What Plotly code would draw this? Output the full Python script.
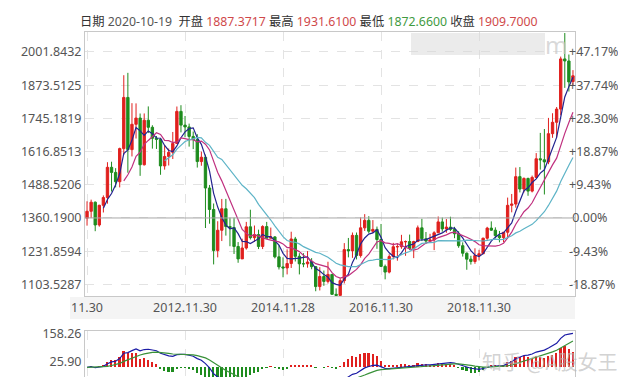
import numpy as np
import plotly.graph_objects as go

# ---------------- data (monthly, 2010.11 .. 2020.10) ----------------
opens = [1359.4, 1386.1, 1421.1, 1333.1, 1409.3, 1439.0, 1556.0, 1536.3, 1500.4, 1628.3,
         1826.1, 1624.4, 1722.2, 1746.4, 1565.8, 1738.0, 1710.7, 1668.3, 1664.0, 1561.4,
         1598.0, 1614.0, 1648.3, 1772.1, 1719.1, 1712.0, 1675.4, 1663.2, 1578.2, 1595.0,
         1476.0, 1393.0, 1234.6, 1312.7, 1395.8, 1327.0, 1323.0, 1250.0, 1202.0, 1244.0,
         1326.0, 1284.0, 1296.0, 1250.0, 1327.0, 1282.0, 1287.0, 1210.0, 1171.0, 1167.0,
         1184.0, 1279.0, 1212.0, 1183.0, 1183.0, 1190.0, 1172.0, 1095.0, 1134.0, 1115.0,
         1142.0, 1065.0, 1061.0, 1118.0, 1238.0, 1233.0, 1293.0, 1215.0, 1322.0, 1351.0,
         1309.0, 1316.0, 1277.0, 1173.0, 1151.0, 1211.0, 1248.6, 1249.0, 1268.0, 1269.0,
         1242.0, 1269.0, 1322.0, 1280.0, 1271.0, 1275.0, 1303.0, 1345.0, 1318.0, 1325.0,
         1316.0, 1299.0, 1253.0, 1224.0, 1201.0, 1192.0, 1215.0, 1222.0, 1282.0, 1321.0,
         1313.0, 1292.0, 1284.0, 1305.0, 1409.0, 1414.0, 1520.0, 1472.0, 1513.0, 1464.0,
         1517.0, 1589.0, 1585.0, 1577.0, 1686.0, 1730.0, 1781.0, 1975.0, 1967.0, 1887.3717]
highs = [1424.6, 1431.0, 1424.0, 1411.2, 1447.4, 1575.8, 1577.6, 1552.7, 1632.0, 1912.0,
         1921.2, 1803.9, 1803.1, 1764.0, 1764.2, 1791.4, 1718.6, 1677.1, 1668.3, 1640.5,
         1628.5, 1692.6, 1791.0, 1796.1, 1754.3, 1724.9, 1694.5, 1684.0, 1616.5, 1605.0,
         1487.8, 1416.2, 1347.6, 1433.8, 1434.0, 1361.0, 1361.0, 1267.0, 1280.0, 1345.0,
         1392.0, 1331.0, 1315.0, 1332.0, 1345.0, 1323.0, 1290.0, 1255.0, 1208.0, 1239.0,
         1307.0, 1287.0, 1224.0, 1224.0, 1232.0, 1205.0, 1174.0, 1170.0, 1157.0, 1191.0,
         1142.0, 1088.0, 1127.0, 1263.0, 1283.0, 1304.0, 1304.0, 1362.0, 1375.0, 1367.0,
         1352.0, 1327.0, 1337.0, 1180.0, 1220.0, 1264.0, 1261.0, 1295.0, 1273.0, 1296.0,
         1272.0, 1331.0, 1357.0, 1306.0, 1299.0, 1309.0, 1366.0, 1362.0, 1356.0, 1365.0,
         1326.0, 1309.0, 1266.0, 1227.0, 1214.0, 1243.0, 1237.0, 1284.0, 1326.0, 1347.0,
         1324.0, 1310.0, 1306.0, 1439.0, 1453.0, 1555.0, 1557.0, 1517.0, 1516.0, 1524.0,
         1611.0, 1689.0, 1704.0, 1747.0, 1765.0, 1789.0, 1984.0, 2075.0, 1992.0, 1931.61]
lows = [1330.6, 1360.6, 1309.1, 1326.6, 1381.4, 1415.5, 1462.4, 1478.3, 1478.4, 1603.5,
        1535.0, 1598.0, 1667.2, 1523.0, 1563.0, 1688.3, 1628.2, 1627.0, 1527.1, 1547.0,
        1563.1, 1588.0, 1646.6, 1691.0, 1672.0, 1636.0, 1626.3, 1555.0, 1562.0, 1321.4,
        1338.0, 1180.7, 1208.0, 1271.0, 1292.0, 1251.0, 1221.0, 1187.0, 1202.0, 1238.0,
        1277.0, 1268.0, 1240.0, 1240.0, 1281.0, 1281.0, 1204.0, 1161.0, 1131.0, 1142.0,
        1167.0, 1192.0, 1142.0, 1170.0, 1168.0, 1162.0, 1077.0, 1080.0, 1098.0, 1107.0,
        1066.0, 1062.0, 1061.0, 1107.0, 1208.0, 1206.0, 1200.0, 1207.0, 1310.0, 1301.0,
        1302.0, 1241.0, 1171.0, 1123.0, 1146.0, 1200.0, 1195.0, 1241.0, 1214.0, 1236.0,
        1205.0, 1267.0, 1271.0, 1260.0, 1264.0, 1236.0, 1303.0, 1307.0, 1303.0, 1310.0,
        1282.0, 1245.0, 1211.0, 1160.0, 1180.0, 1183.0, 1196.0, 1221.0, 1276.0, 1310.0,
        1281.0, 1266.0, 1267.0, 1281.0, 1382.0, 1400.0, 1459.0, 1459.0, 1446.0, 1459.0,
        1517.0, 1547.0, 1451.0, 1568.0, 1670.0, 1671.0, 1757.0, 1863.0, 1849.0, 1872.66]
closes = [1386.1, 1421.1, 1333.1, 1409.3, 1439.0, 1556.0, 1536.3, 1500.4, 1628.3, 1826.1,
          1624.4, 1722.2, 1746.4, 1565.8, 1738.0, 1710.7, 1668.3, 1664.0, 1561.4, 1598.0,
          1614.0, 1648.3, 1772.1, 1719.1, 1712.0, 1675.4, 1663.2, 1578.2, 1595.0, 1476.0,
          1393.0, 1234.6, 1312.7, 1395.8, 1327.0, 1323.0, 1250.0, 1202.0, 1244.0, 1326.0,
          1284.0, 1296.0, 1250.0, 1327.0, 1282.0, 1287.0, 1210.0, 1171.0, 1167.0, 1184.0,
          1279.0, 1212.0, 1183.0, 1183.0, 1190.0, 1172.0, 1095.0, 1134.0, 1115.0, 1142.0,
          1065.0, 1061.0, 1118.0, 1238.0, 1233.0, 1293.0, 1215.0, 1322.0, 1351.0, 1309.0,
          1316.0, 1277.0, 1173.0, 1151.0, 1211.0, 1249.0, 1249.4, 1268.0, 1269.0, 1242.0,
          1269.0, 1322.0, 1280.0, 1271.0, 1275.0, 1303.0, 1345.0, 1318.0, 1325.0, 1316.0,
          1299.0, 1253.0, 1224.0, 1201.0, 1192.0, 1215.0, 1222.0, 1282.0, 1321.0, 1313.0,
          1292.0, 1284.0, 1305.0, 1409.0, 1414.0, 1520.0, 1472.0, 1513.0, 1464.0, 1517.0,
          1589.0, 1585.0, 1577.0, 1686.0, 1730.0, 1781.0, 1975.0, 1967.0, 1886.0, 1909.70]

x_ticks = [0, 24, 48, 72, 96]
x_tick_labels = ["11.30", "2012.11.30", "2014.11.28", "2016.11.30", "2018.11.30"]
base_price = 1360.19
price_ticks = [1103.5287, 1231.8594, 1360.1900, 1488.5206, 1616.8513, 1745.1819, 1873.5125, 2001.8432]
pct_labels = ["-18.87%", "-9.43%", " 0.00%", "+9.43%", "+18.87%", "+28.30%", "+37.74%", "+47.17%"]
macd_ticks = [158.26, 25.90]
header = {"date": "2020-10-19", "open": "1887.3717", "high": "1931.6100",
          "low": "1872.6600", "close": "1909.7000"}

# ---------------- derived indicators ----------------
c = np.array(closes, dtype=float)
n = len(c)
idx = np.arange(n)

def ma(arr, k):
    out = np.full(len(arr), np.nan)
    for i in range(k - 1, len(arr)):
        out[i] = arr[i - k + 1:i + 1].mean()
    return out

def ema(arr, k):
    out = np.zeros(len(arr))
    a = 2.0 / (k + 1)
    out[0] = arr[0]
    for i in range(1, len(arr)):
        out[i] = a * arr[i] + (1 - a) * out[i - 1]
    return out

ma5, ma10, ma20 = ma(c, 5), ma(c, 10), ma(c, 20)
dif = ema(c, 12) - ema(c, 26)
dea = np.zeros(n)
for i in range(1, n):
    dea[i] = (2 / 10) * dif[i] + (8 / 10) * dea[i - 1]
hist = 2 * (dif - dea)

RED = "#e0201e"
GREEN = "#1e8c1e"

fig = go.Figure()
fig.add_trace(go.Candlestick(
    x=idx, open=opens, high=highs, low=lows, close=closes,
    increasing=dict(line=dict(color=RED, width=1), fillcolor=RED),
    decreasing=dict(line=dict(color=GREEN, width=1), fillcolor=GREEN),
    whiskerwidth=0, xaxis="x", yaxis="y", showlegend=False, hoverinfo="skip"))
for arr, col in [(ma5, "#23238f"), (ma10, "#c0307f"), (ma20, "#5eb4c7")]:
    fig.add_trace(go.Scatter(x=idx, y=arr, mode="lines", line=dict(color=col, width=1.2),
                             xaxis="x", yaxis="y", showlegend=False, hoverinfo="skip"))
fig.add_trace(go.Scatter(x=[0], y=[base_price], mode="markers", marker=dict(opacity=0),
                         xaxis="x", yaxis="y2", showlegend=False, hoverinfo="skip"))

fig.add_trace(go.Bar(x=idx, y=hist, marker=dict(color=[RED if v >= 0 else GREEN for v in hist],
                     line=dict(width=0)), width=0.4, xaxis="x2", yaxis="y3",
                     showlegend=False, hoverinfo="skip"))
fig.add_trace(go.Scatter(x=idx, y=dif, mode="lines", line=dict(color="#1c1ca6", width=1.2),
                         xaxis="x2", yaxis="y3", showlegend=False, hoverinfo="skip"))
fig.add_trace(go.Scatter(x=idx, y=dea, mode="lines", line=dict(color="#3a923a", width=1.2),
                         xaxis="x2", yaxis="y3", showlegend=False, hoverinfo="skip"))

H, T = 377, 24
plot_h = H - T
def py(pix):
    return (H - pix) / plot_h

yr = [1058.6, 2079.0]
AX_FONT = dict(family="Noto Sans, Noto Sans CJK SC, sans-serif", size=12.5, color="#555")
BORDER = "#c8c8c8"
GRID = "#e3e3e3"

fig.update_layout(
    width=626, height=377, margin=dict(l=77, r=59, t=T, b=0),
    paper_bgcolor="white", plot_bgcolor="white", bargap=0, boxgap=0.18,
    font=AX_FONT,
    xaxis=dict(domain=[0, 1], range=[-0.5, n - 0.5], anchor="y", tickvals=x_ticks,
               ticktext=x_tick_labels, showgrid=True, gridcolor=GRID, griddash="dash",
               showline=True, linecolor=BORDER, mirror=True, ticks="", zeroline=False,
               rangeslider=dict(visible=False), tickfont=AX_FONT),
    yaxis=dict(domain=[py(288), 1], range=yr, tickvals=price_ticks,
               ticktext=[f"{v:.4f}" for v in price_ticks], showgrid=True, gridcolor=GRID,
               griddash="dash", showline=True, linecolor=BORDER, mirror=True, ticks="",
               zeroline=False, tickfont=AX_FONT),
    yaxis2=dict(overlaying="y", side="right", anchor="x", range=yr, tickvals=price_ticks,
                ticktext=pct_labels, showgrid=False, zeroline=False, ticks="",
                ticklabelstandoff=-7, tickfont=AX_FONT),
    xaxis2=dict(domain=[0, 1], range=[-0.5, n - 0.5], anchor="y3", tickvals=x_ticks,
                showticklabels=False, showgrid=True, gridcolor=GRID, griddash="dash",
                showline=True, linecolor=BORDER, mirror=True, ticks="", zeroline=False),
    yaxis3=dict(domain=[0, py(323.3)], range=[-82.4, 167.6], tickvals=macd_ticks,
                ticktext=[f"{v:.2f}" for v in macd_ticks], showgrid=False,
                showline=True, linecolor=BORDER, mirror=True, ticks="", zeroline=False,
                tickfont=AX_FONT),
)

shapes = [
    dict(type="line", xref="x domain", yref="y", x0=0, x1=1, y0=base_price, y1=base_price,
         line=dict(color="#a8a8a8", width=1)),
    dict(type="rect", xref="paper", yref="paper", x0=(62 - 77) / 490, x1=1,
         y0=py(311), y1=py(289), fillcolor="#f4f4f4", line=dict(width=0), layer="below"),
    dict(type="rect", xref="paper", yref="paper", x0=(403 - 77) / 490, x1=(537 - 77) / 490,
         y0=py(47), y1=py(25), fillcolor="rgba(215,215,215,0.5)", line=dict(width=0)),
]
fig.update_layout(shapes=shapes)

lab = "color:#333"
hdr = (f"<span style='{lab}'>日期</span> <span style='color:#555'>{header['date']}</span>  "
       f"<span style='{lab}'>开盘</span> <span style='color:#d0494a'>{header['open']}</span> "
       f"<span style='{lab}'>最高</span> <span style='color:#d0494a'>{header['high']}</span> "
       f"<span style='{lab}'>最低</span> <span style='color:#3f9a3f'>{header['low']}</span> "
       f"<span style='{lab}'>收盘</span> <span style='color:#d0494a'>{header['close']}</span>")
fig.add_annotation(text=hdr, xref="paper", yref="paper", x=-7 / 490, y=py(14), xanchor="left",
                   yanchor="middle", showarrow=False,
                   font=dict(family="Noto Sans, Noto Sans CJK SC, sans-serif", size=12.3,
                             color="#333"))
fig.add_annotation(text="知乎 @A股女王", xref="paper", yref="paper", x=(612 - 77) / 490,
                   y=py(353), xanchor="right", yanchor="middle", showarrow=False,
                   font=dict(family="Noto Sans CJK SC, sans-serif", size=20,
                             color="rgba(185,185,185,0.65)"))
fig.add_annotation(text="m", xref="paper", yref="paper", x=(548 - 77) / 490,
                   y=py(37), xanchor="center", yanchor="middle", showarrow=False,
                   font=dict(family="Noto Sans, sans-serif", size=24, color="rgba(200,200,200,0.7)"))

fig.write_html("out.html")
